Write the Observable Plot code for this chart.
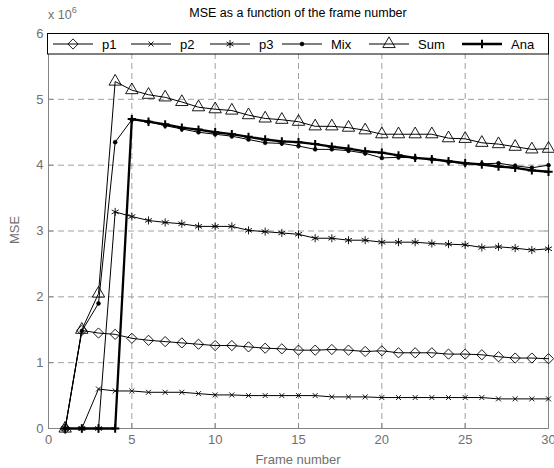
<!DOCTYPE html>
<html><head><meta charset="utf-8">
<script src="https://cdn.jsdelivr.net/npm/d3@7"></script>
<script src="https://cdn.jsdelivr.net/npm/@observablehq/plot@0.6"></script>
<style>
body{margin:0;background:#fff;font-family:"Liberation Sans",Arial,sans-serif;}
#wrap{position:relative;width:554px;height:468px;overflow:hidden;}
.ov{position:absolute;white-space:nowrap;line-height:1;}
</style></head><body><div id="wrap"></div>
<script>
// ---- data (MSE in units of 10^6) ----
const frames = [1,2,3,4,5,6,7,8,9,10,11,12,13,14,15,16,17,18,19,20,21,22,23,24,25,26,27,28,29,30];
const p1  = [0,1.49,1.45,1.43,1.37,1.34,1.32,1.30,1.28,1.26,1.26,1.24,1.22,1.21,1.19,1.19,1.20,1.19,1.17,1.18,1.15,1.15,1.15,1.13,1.13,1.12,1.09,1.07,1.07,1.06];
const p2  = [0,0,0.60,0.57,0.57,0.55,0.55,0.55,0.53,0.51,0.51,0.50,0.50,0.50,0.50,0.50,0.48,0.48,0.48,0.47,0.47,0.47,0.47,0.47,0.47,0.47,0.45,0.45,0.45,0.45];
const p3  = [0,0,0,3.29,3.22,3.16,3.13,3.11,3.07,3.07,3.07,3.01,2.99,2.97,2.95,2.89,2.89,2.86,2.86,2.83,2.83,2.83,2.81,2.80,2.79,2.75,2.76,2.74,2.71,2.73];
const mix = [0,1.48,1.90,4.35,4.69,4.66,4.60,4.55,4.50,4.47,4.44,4.39,4.34,4.33,4.29,4.24,4.24,4.22,4.18,4.11,4.12,4.11,4.09,4.05,4.02,4.02,4.03,3.99,3.96,4.00];
const sum = [0,1.50,2.05,5.27,5.14,5.07,5.03,4.96,4.88,4.85,4.83,4.76,4.71,4.69,4.66,4.59,4.59,4.57,4.53,4.47,4.47,4.47,4.47,4.41,4.40,4.34,4.32,4.28,4.24,4.25];
const ana = [0,0,0,0,4.70,4.66,4.62,4.57,4.54,4.50,4.47,4.43,4.39,4.36,4.35,4.32,4.28,4.25,4.21,4.19,4.15,4.11,4.09,4.06,4.03,4.01,3.98,3.96,3.92,3.90];
const seriesNames = ["p1","p2","p3","Mix","Sum","Ana"];
const xTicks = [0,5,10,15,20,25,30];
const yTicks = [0,1,2,3,4,5,6];
const xGrid = [5,10,15,20,25];
const yGrid = [1,2,3,4,5];
const titleText = "MSE as a function of the frame number";
const xLabel = "Frame number";
const yLabel = "MSE";

// ---- styles ----
const seriesValues = {p1, p2, p3, Mix: mix, Sum: sum, Ana: ana};
const styles = {
  p1:  {symbol: "diamond2", d3sym: d3.symbolDiamond2, r: 4.6, fill: "none", lw: 1, mw: 0.9},
  p2:  {symbol: "times", d3sym: d3.symbolTimes, r: 2.4, fill: "none", lw: 1, mw: 0.9},
  p3:  {symbol: "asterisk", d3sym: d3.symbolAsterisk, r: 3.8, fill: "none", lw: 1, mw: 0.9},
  Mix: {symbol: "circle", d3sym: d3.symbolCircle, r: 2, fill: "black", lw: 1, mw: 0.5},
  Sum: {symbol: "triangle", d3sym: d3.symbolTriangle, r: 4.6, fill: "none", lw: 1, mw: 0.9},
  Ana: {symbol: "plus", d3sym: d3.symbolPlus, r: 2.8, fill: "none", lw: 2.3, mw: 2}
};
const grey = "#6f6f6f";
const axisGrey = "#858585";
const fmt = d3.format("d");

const rows = seriesNames.flatMap(name => seriesValues[name].map((v, i) => ({series: name, frame: frames[i], mse: v})));

const marks = [
  Plot.ruleX(xGrid, {stroke: "#a0a0a0", strokeDasharray: "6,4", strokeWidth: 1}),
  Plot.ruleY(yGrid, {stroke: "#a0a0a0", strokeDasharray: "6,4", strokeWidth: 1}),
  Plot.frame({stroke: axisGrey}),
  Plot.axisX(xTicks, {anchor: "bottom", tickSize: -5, tickPadding: 11, tickFormat: fmt, stroke: axisGrey, fill: grey, label: null}),
  Plot.axisX(xTicks, {anchor: "top", tickSize: -5, tickFormat: () => "", stroke: axisGrey, label: null}),
  Plot.axisY(yTicks, {anchor: "left", tickSize: -5, tickPadding: 10, tickFormat: fmt, stroke: axisGrey, fill: grey, label: null}),
  Plot.axisY(yTicks, {anchor: "right", tickSize: -5, tickFormat: () => "", stroke: axisGrey, label: null})
];
for (const name of seriesNames) {
  const s = styles[name];
  marks.push(Plot.line(rows.filter(d => d.series === name), {x: "frame", y: "mse", stroke: "black", strokeWidth: s.lw, strokeLinejoin: "round"}));
}
for (const name of seriesNames) {
  const s = styles[name];
  marks.push(Plot.dot(rows.filter(d => d.series === name), {x: "frame", y: "mse", symbol: s.symbol, r: s.r, stroke: "black", fill: s.fill, strokeWidth: s.mw}));
}

const chart = Plot.plot({
  width: 554, height: 468,
  marginLeft: 48, marginRight: 6, marginTop: 33, marginBottom: 40,
  style: {fontFamily: "'Liberation Sans', Arial, sans-serif", fontSize: "13px", background: "white", color: grey},
  x: {domain: [0, 30]},
  y: {domain: [0, 6]},
  marks
});
const wrap = document.getElementById("wrap");
wrap.appendChild(chart);

function ov(html, css) {
  const d = document.createElement("div");
  d.className = "ov";
  d.innerHTML = html;
  Object.assign(d.style, css);
  wrap.appendChild(d);
  return d;
}
ov(titleText, {left: "0px", width: "596px", top: "7px", textAlign: "center", fontSize: "12.5px", color: "#000"});
ov('x 10<sup style="font-size:9px;vertical-align:0;position:relative;top:-6px">6</sup>', {left: "48px", top: "9px", fontSize: "12.5px", color: grey});
ov(xLabel, {left: "0px", width: "596px", top: "453px", textAlign: "center", fontSize: "13px", color: grey});
ov(yLabel, {left: "14px", top: "230px", fontSize: "13px", color: grey, transform: "translate(-50%,-50%) rotate(-90deg)"});

// ---- legend ----
const lg = d3.create("svg").attr("width", 502).attr("height", 22)
  .style("position", "absolute").style("left", "47px").style("top", "33px").style("overflow", "visible");
lg.append("rect").attr("x", 0.5).attr("y", 0.5).attr("width", 501).attr("height", 20.5).attr("fill", "white").attr("stroke", "black");
const lineStarts = [6, 84, 163, 235, 322, 415];
const segLen = 40;
seriesNames.forEach((name, i) => {
  const s = styles[name];
  const x0 = lineStarts[i], cy = 11;
  lg.append("line").attr("x1", x0).attr("x2", x0 + segLen).attr("y1", cy).attr("y2", cy).attr("stroke", "black").attr("stroke-width", s.lw);
  lg.append("path").attr("transform", `translate(${x0 + segLen / 2},${cy})`)
    .attr("d", d3.symbol(s.d3sym, Math.PI * s.r * s.r)())
    .attr("fill", s.fill === "none" ? "none" : s.fill).attr("stroke", "black").attr("stroke-width", s.mw);
  lg.append("text").attr("x", x0 + segLen + 9).attr("y", cy + 4.5).attr("font-size", 13)
    .attr("font-family", "'Liberation Sans', Arial, sans-serif").attr("fill", "black").text(name);
});
wrap.appendChild(lg.node());
</script></body></html>
